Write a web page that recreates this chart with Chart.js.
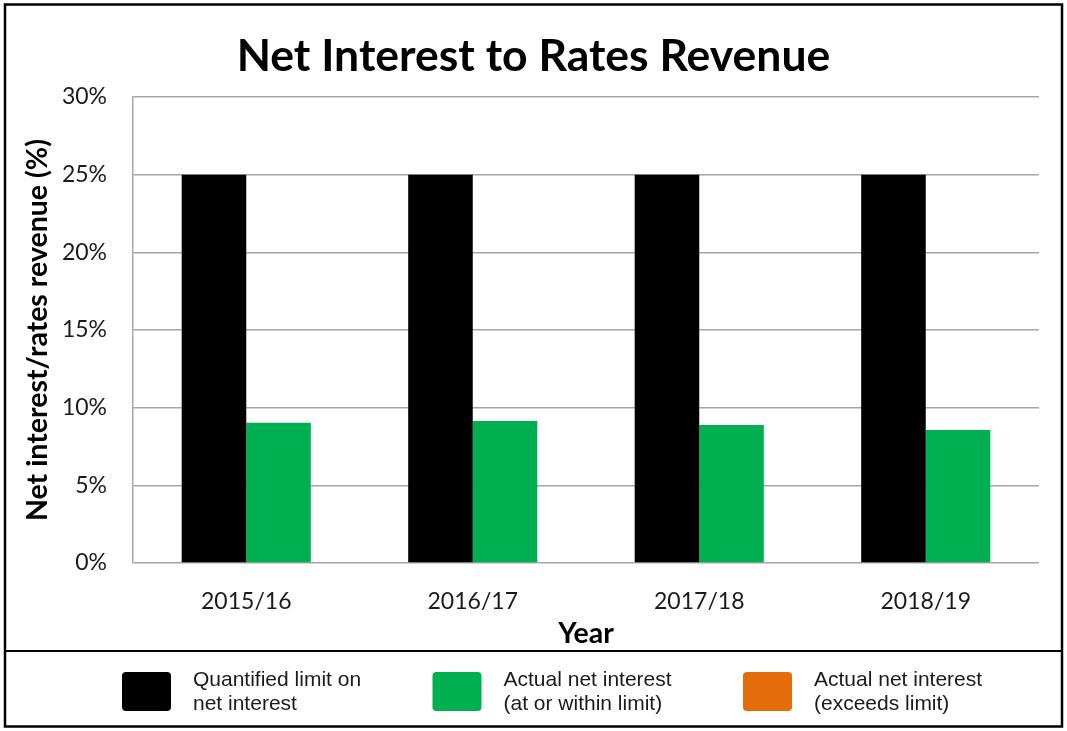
<!DOCTYPE html>
<html>
<head>
<meta charset="utf-8">
<script src="https://cdn.jsdelivr.net/npm/chart.js@4.4.1/dist/chart.umd.min.js"></script>
<style>
  html, body { margin: 0; padding: 0; background: #fff; }
  #wrap { width: 1067px; height: 731px; position: relative; }
</style>
</head>
<body>
<div id="wrap"><canvas id="myChart" width="1067" height="731"></canvas></div>
<script>
// data
const years = ["2015/16", "2016/17", "2017/18", "2018/19"];
const limitValues = [25, 25, 25, 25];
const actualWithin = [9.03, 9.14, 8.89, 8.56];
const actualExceeds = [null, null, null, null];
const yTicks = [0, 5, 10, 15, 20, 25, 30];

// legend text, two lines each
const legendLines = [
  ["Quantified limit on", "net interest"],
  ["Actual net interest", "(at or within limit)"],
  ["Actual net interest", "(exceeds limit)"]
];

const colors = ["#000000", "#00B050", "#E46C0A"];

// frame + separator + custom two-line legend
const frameLegend = {
  id: 'frameLegend',
  afterDraw(chart) {
    const ctx = chart.ctx;
    ctx.save();
    ctx.strokeStyle = '#000';
    ctx.lineWidth = 2.5;
    ctx.strokeRect(5, 4.5, 1057, 722);
    ctx.lineWidth = 2;
    ctx.beginPath();
    ctx.moveTo(5, 651);
    ctx.lineTo(1062, 651);
    ctx.stroke();

    ctx.font = '21px "Liberation Sans", Arial, sans-serif';
    ctx.textBaseline = 'middle';
    ctx.textAlign = 'left';
    chart.data.datasets.forEach((ds, i) => {
      const x = 122 + i * 310.5;
      ctx.fillStyle = ds.backgroundColor;
      ctx.beginPath();
      ctx.roundRect(x, 672, 49, 39, 4);
      ctx.fill();
      ctx.fillStyle = '#1a1a1a';
      legendLines[i].forEach((t, j) => {
        ctx.fillText(t, x + 71, 680 + j * 24);
      });
    });
    ctx.restore();
  }
};

const data = {
  labels: years,
  datasets: [
    { label: legendLines[0].join(' '), data: limitValues, backgroundColor: colors[0] },
    { label: legendLines[1].join(' '), data: actualWithin, backgroundColor: colors[1] },
    { label: legendLines[2].join(' '), data: actualExceeds, backgroundColor: colors[2] }
  ]
};

const config = {
  type: 'bar',
  data: data,
  options: {
    responsive: false,
    animation: false,
    events: [],
    skipNull: true,
    categoryPercentage: 0.57,
    barPercentage: 1.0,
    layout: { padding: { left: 28, right: 28, top: 10, bottom: 80 } },
    plugins: {
      legend: { display: false },
      tooltip: { enabled: false },
      title: {
        display: true,
        text: 'Net Interest to Rates Revenue',
        color: '#000',
        font: { family: 'Lato', size: 44.5, weight: 'bold', lineHeight: 1.2 },
        padding: { top: 20.3, bottom: 13.3 }
      }
    },
    scales: {
      x: {
        grid: { display: false, drawTicks: false },
        border: { display: false },
        ticks: { color: '#1a1a1a', font: { family: 'Lato', size: 23 }, padding: 25 },
        title: {
          display: true,
          text: 'Year',
          color: '#000',
          font: { family: 'Lato', size: 28.5, weight: 'bold', lineHeight: 1.2 },
          padding: { top: 0, bottom: 0 }
        },
        afterFit: s => { s.height = 88; }
      },
      y: {
        min: 0,
        max: 30,
        afterBuildTicks: s => { s.ticks = yTicks.map(v => ({ value: v })); },
        grid: { color: '#a6a6a6', lineWidth: 1.5, drawTicks: false },
        border: { display: true, color: '#a6a6a6', width: 1.5 },
        ticks: {
          color: '#1a1a1a',
          font: { family: 'Lato', size: 23 },
          padding: 26,
          callback: v => v + '%'
        },
        title: {
          display: true,
          text: 'Net interest/rates revenue (%)',
          color: '#000',
          font: { family: 'Lato', size: 28.5, weight: 'bold', lineHeight: 1.2 },
          padding: { top: -7.1, bottom: 0 }
        },
        afterFit: s => { s.width = 105; }
      }
    }
  },
  plugins: [frameLegend]
};

const myChart = new Chart(document.getElementById('myChart'), config);
</script>
</body>
</html>
